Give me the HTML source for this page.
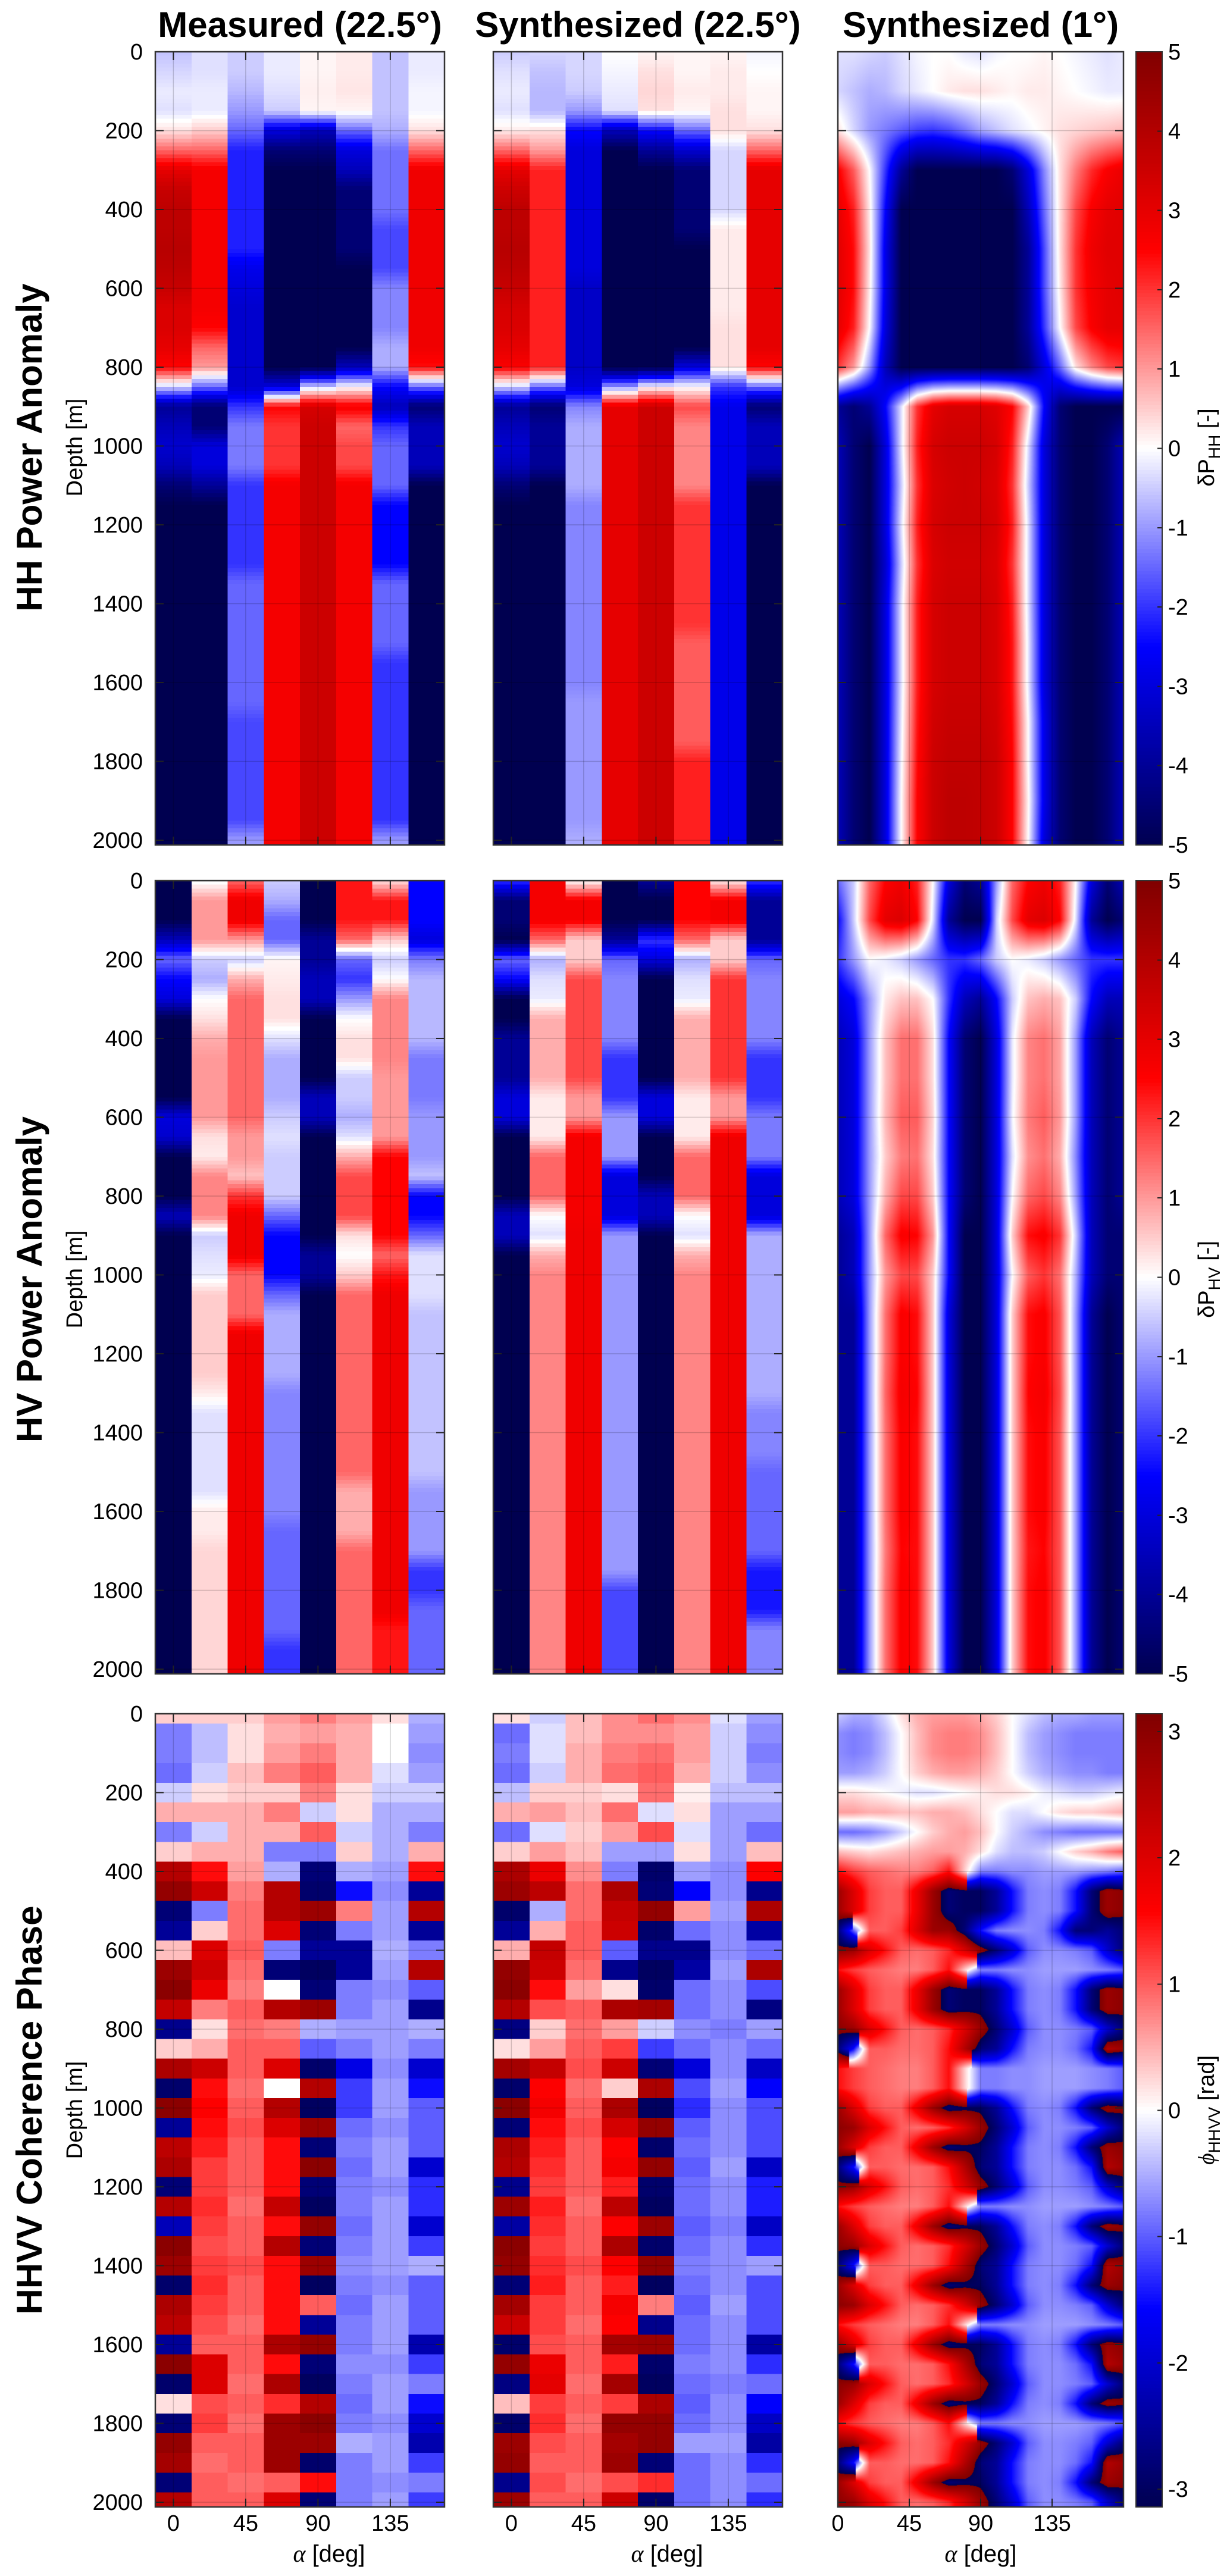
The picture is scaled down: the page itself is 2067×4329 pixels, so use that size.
<!DOCTYPE html>
<html><head><meta charset="utf-8">
<style>
body{margin:0;background:#fff;width:2067px;height:4329px;position:relative;overflow:hidden;font-family:"Liberation Sans",Arial,sans-serif}
canvas{position:absolute}
#fig{position:absolute;left:0;top:0}
</style></head>
<body>
<canvas id="cv-hh" width="480" height="1333" style="left:1408px;top:87px"></canvas>
<canvas id="cv-hv" width="480" height="1333" style="left:1408px;top:1480px"></canvas>
<canvas id="cv-ph" width="480" height="1333" style="left:1408px;top:2880px"></canvas>
<svg id="fig" width="2067" height="4329" xmlns="http://www.w3.org/2000/svg">
<g font-family="Liberation Sans, Arial, sans-serif" fill="#000">
<text x="504" y="62" font-size="60" font-weight="bold" text-anchor="middle">Measured (22.5°)</text>
<text x="1072" y="62" font-size="60" font-weight="bold" text-anchor="middle">Synthesized (22.5°)</text>
<text x="1648" y="62" font-size="60" font-weight="bold" text-anchor="middle">Synthesized (1°)</text>
<text transform="translate(70,752) rotate(-90)" font-size="60" font-weight="bold" text-anchor="middle">HH Power Anomaly</text>
<text transform="translate(70,2150) rotate(-90)" font-size="60" font-weight="bold" text-anchor="middle">HV Power Anomaly</text>
<text transform="translate(70,3546) rotate(-90)" font-size="60" font-weight="bold" text-anchor="middle">HHVV Coherence Phase</text>
<text transform="translate(138,752) rotate(-90)" font-size="38" text-anchor="middle">Depth [m]</text>
<text transform="translate(138,2150) rotate(-90)" font-size="38" text-anchor="middle">Depth [m]</text>
<text transform="translate(138,3546) rotate(-90)" font-size="38" text-anchor="middle">Depth [m]</text>
<text transform="translate(2040,752) rotate(-90)" font-size="38" text-anchor="middle">δP<tspan font-size="28" dy="10">HH</tspan><tspan dy="-10"> [-]</tspan></text>
<text transform="translate(2040,2150) rotate(-90)" font-size="38" text-anchor="middle">δP<tspan font-size="28" dy="10">HV</tspan><tspan dy="-10"> [-]</tspan></text>
<text transform="translate(2040,3546) rotate(-90)" font-size="38" text-anchor="middle"><tspan font-family="Liberation Serif, serif" font-style="italic">ϕ</tspan><tspan font-size="28" dy="10">HHVV</tspan><tspan dy="-10"> [rad]</tspan></text>
<text x="553" y="4305" font-size="40" text-anchor="middle"><tspan font-family="Liberation Serif, serif" font-style="italic">α</tspan> [deg]</text>
<text x="1121" y="4305" font-size="40" text-anchor="middle"><tspan font-family="Liberation Serif, serif" font-style="italic">α</tspan> [deg]</text>
<text x="1648" y="4305" font-size="40" text-anchor="middle"><tspan font-family="Liberation Serif, serif" font-style="italic">α</tspan> [deg]</text>
</g>
<g id="layer"></g>
</svg>
<script>
// ---------- categories ----------
const depths50 = [0,50,100,150,200,250,300,350,400,450,500,550,600,650,700,750,800,850,900,950,1000,1050,1100,1150,1200,1250,1300,1350,1400,1450,1500,1550,1600,1650,1700,1750,1800,1850,1900,1950,2000];
const depths100 = [0,100,200,300,400,500,600,700,800,900,1000,1100,1200,1300,1400,1500,1600,1700,1800,1900,2000];
const alphas22 = [0,22.5,45,67.5,90,112.5,135,157.5];
const alphas1 = [0,10,20,30,40,50,60,70,80,90,100,110,120,130,140,150,160,170,180];
const depthTicks = [0,200,400,600,800,1000,1200,1400,1600,1800,2000];
const alphaTicks = [0,45,90,135];
const powerCbTicks = [5,4,3,2,1,0,-1,-2,-3,-4,-5];
const phaseCbTicks = [3,2,1,0,-1,-2,-3];

// ---------- HH measured (columns) ----------
const hhM0 = [-0.6,-0.4,-0.2,-0.3,0.3,1.5,3,3.6,3.8,3.8,3.9,3.8,3.6,3.2,3.2,3,2.5,-0.5,-4,-3.5,-3.2,-3.5,-4.5,-5,-5,-5,-5,-5,-5,-5,-5,-5,-5,-5,-5,-5,-5,-5,-5,-5,-5];
const hhM1 = [-0.3,-0.3,-0.2,-0.2,0.5,1.5,2.7,2.7,2.7,2.7,2.7,2.7,2.7,2.7,2.5,1.5,1,-1.5,-4.5,-4.5,-3,-3,-4,-5,-5,-5,-5,-5,-5,-5,-5,-5,-5,-5,-5,-5,-5,-5,-5,-5,-5];
const hhM2 = [-0.5,-0.5,-0.7,-1,-1.5,-2.2,-2.2,-2.2,-2.2,-2.2,-2.2,-2.8,-3,-3.2,-3.2,-3.2,-3.2,-3.2,-2,-1.3,-1.3,-1.3,-2,-2,-2,-2,-2,-1.5,-1.5,-1.5,-1.5,-1.5,-1.5,-1.5,-1.8,-1.8,-1.8,-1.8,-1.8,-1.8,-1];
const hhM3 = [-0.2,-0.2,-0.3,-0.5,-3,-4.5,-5,-5,-5,-5,-5,-5,-5,-5,-5,-5,-5,-3,2.5,2,2,2,2.7,2.7,2.7,2.7,2.7,2.7,2.7,2.7,2.7,2.7,2.7,2.7,2.7,2.7,2.7,2.7,2.7,2.7,2.7];
const hhM4 = [0.1,0.1,0.15,0.1,-3.5,-4.5,-5,-5,-5,-5,-5,-5,-5,-5,-5,-5,-5,-0.5,3.3,3.5,3.5,3.5,3.5,3.5,3.5,3.5,3.5,3.5,3.5,3.5,3.5,3.5,3.5,3.5,3.5,3.5,3.5,3.5,3.5,3.5,3.5];
const hhM5 = [0.2,0.2,0.25,0.1,-1.5,-3,-3.5,-4.5,-4.5,-4.5,-4.5,-5,-5,-5,-5,-5,-3.5,0,2.7,1.5,1.8,1.8,2.7,2.7,2.7,2.7,2.7,2.7,2.7,2.7,2.7,2.7,2.7,2.7,2.7,2.7,2.7,2.7,2.7,2.7,2.7];
const hhM6 = [-0.6,-0.6,-0.6,-0.6,-0.8,-1.4,-1.4,-1.4,-1.4,-1.8,-1.8,-1.8,-1.2,-1.2,-1.2,-0.8,-0.8,-2.5,-3.5,-2,-1.5,-1.5,-1.5,-2.5,-2.5,-2.5,-2.5,-1.5,-1.5,-1.5,-1.5,-2,-2,-2,-2,-2,-2,-2,-2,-2,-1];
const hhM7 = [-0.2,-0.2,-0.1,-0.1,0.3,1.5,2.8,2.8,2.8,2.8,2.8,2.8,2.8,2.8,2.8,2.8,2.4,-1.5,-4.5,-3.5,-3.5,-3.5,-5,-5,-5,-5,-5,-5,-5,-5,-5,-5,-5,-5,-5,-5,-5,-5,-5,-5,-5];
// ---------- HH synthesized 22.5 ----------
const hhS0 = [-0.5,-0.3,-0.2,-0.3,0.2,1.5,3,3.5,3.8,3.8,3.9,3.8,3.6,3.3,3.2,3,2.6,-0.5,-4,-3.5,-3.2,-3.5,-4.5,-5,-5,-5,-5,-5,-5,-5,-5,-5,-5,-5,-5,-5,-5,-5,-5,-5,-5];
const hhS1 = [-0.4,-0.6,-0.7,-0.7,0.3,1,2.2,2.2,2.2,2.2,2.2,2.2,2.2,2.2,2.2,2.2,2.2,-1.5,-4.5,-4,-4,-4,-5,-5,-5,-5,-5,-5,-5,-5,-5,-5,-5,-5,-5,-5,-5,-5,-5,-5,-5];
const hhS2 = [-0.4,-0.4,-0.5,-1,-2.5,-3,-3,-3,-3,-3,-3,-3,-3.3,-3.3,-3.3,-3.3,-3.3,-3,-1.2,-0.8,-0.8,-0.8,-0.8,-1.2,-1.2,-1.2,-1.2,-1.2,-1.2,-1.2,-1.2,-1.2,-1.2,-1,-1,-1,-1,-1,-1,-1,-0.8];
const hhS3 = [0,-0.1,-0.2,-0.3,-3.5,-5,-5,-5,-5,-5,-5,-5,-5,-5,-5,-5,-5,-1,3,3,3,3,3,3,3,3,3,3,3,3,3,3,3,3,3,3,3,3,3,3,3];
const hhS4 = [0.1,0.3,0.4,0.3,-2.5,-4,-5,-5,-5,-5,-5,-5,-5,-5,-5,-5,-5,0,3.5,3.5,3.5,3.5,3.5,3.5,3.5,3.5,3.5,3.5,3.5,3.5,3.5,3.5,3.5,3.5,3.5,3.5,3.5,3.5,3.5,3.5,3.5];
const hhS5 = [0.1,0.1,0.2,0.1,-1.5,-3.2,-4.5,-4.5,-4.5,-4.5,-5,-5,-5,-5,-5,-5,-3,0,1.8,1.2,1.2,1.2,1.2,2,2,2,2,2,2,2,1.6,1.6,1.6,1.6,1.6,1.6,2.2,2.2,2.2,2.2,2.2];
const hhS6 = [0.1,0.2,0.2,0.3,0.3,-0.4,-0.4,-0.4,-0.4,0.2,0.2,0.2,0.2,0.2,0.3,0.3,0.3,-2,-2.8,-2.8,-2.8,-2.8,-2.8,-2.8,-2.8,-2.8,-2.8,-2.8,-2.8,-2.8,-2.8,-2.8,-2.8,-2.8,-2.8,-2.8,-2.8,-2.8,-2.8,-2.8,-2.8];
const hhS7 = [-0.1,0,0.1,0.1,0.3,1.5,3,3,3,3,3,3,3,3,3,3,2.5,-1.5,-4.5,-3.5,-3.5,-3.5,-5,-5,-5,-5,-5,-5,-5,-5,-5,-5,-5,-5,-5,-5,-5,-5,-5,-5,-5];
// ---------- HV measured ----------
const hvM0 = [-5,-5,-5,-3.5,-1.5,-2.5,-3,-5,-5,-5,-5,-5,-3,-3.2,-5,-5,-5,-3.5,-5,-5,-5,-5,-5,-5,-5,-5,-5,-5,-5,-5,-5,-5,-5,-5,-5,-5,-5,-5,-5,-5,-5];
const hvM1 = [-0.1,1,1,1,-0.5,-0.8,0,0.3,0.8,1,1,1,1,0.3,0.2,1.2,1.2,1.2,-0.5,-0.3,-0.2,0.5,0.5,0.5,0.5,0.5,0.2,-0.3,-0.3,-0.3,-0.3,-0.3,0.2,0.2,0.4,0.4,0.4,0.4,0.4,0.4,0.4];
const hvM2 = [1.5,2.8,2.8,1,-0.5,0.8,1.5,1.5,1.5,1.5,1.5,1.5,1.5,1,1,0.6,2,2.8,2.8,2.8,1.5,1.5,1.5,2.8,2.8,2.8,2.8,2.8,2.8,2.8,2.8,2.8,2.8,2.8,2.8,2.8,2.8,2.8,2.8,2.8,2.8];
const hvM3 = [-0.5,-0.8,-1.5,-1.5,0.1,0.2,0.3,0.3,-0.3,-0.8,-0.8,-0.8,-0.5,-0.3,-0.5,-0.5,-0.5,-1.5,-2.5,-2.5,-2.5,-1.5,-0.8,-0.8,-0.8,-0.8,-1.2,-1.2,-1.2,-1.2,-1.2,-1.2,-1.2,-1.5,-1.5,-1.5,-1.5,-1.5,-1.5,-2,-2];
const hvM4 = [-5,-5,-5,-4,-4,-3.5,-3.5,-5,-5,-5,-5,-3.5,-3.5,-5,-5,-5,-5,-5,-5,-4,-4,-5,-5,-5,-5,-5,-5,-5,-5,-5,-5,-5,-5,-5,-5,-5,-5,-5,-5,-5,-5];
const hvM5 = [2.3,2.3,2.3,1.5,-1.5,-2,-1,0,0.3,0.3,-0.5,-0.5,-0.8,-0.3,0.8,1.8,1.8,1.8,0.3,0,0.5,1.5,1.5,1.5,1.5,1.5,1.5,1.5,1.5,1.5,1.5,0.8,0.8,0.8,1.5,1.5,1.5,1.5,1.5,1.5,1.5];
const hvM6 = [0.3,2.3,2.3,0.5,-0.5,0,1.2,1.2,1.2,1.2,1,1,1,1,2.5,2.5,2.5,2.5,2.5,1.5,2.3,2.8,2.8,2.8,2.8,2.8,2.8,2.8,2.8,2.8,2.8,2.8,2.8,2.8,2.8,2.8,2.8,2.8,2.3,2.3,2.3];
const hvM7 = [-2.5,-2.5,-2.5,-3,-1.3,-0.7,-0.7,-0.7,-0.7,-1.3,-1.3,-1.3,-1,-1,-1,-0.6,-2.5,-2.5,-1.5,-0.3,-0.3,-0.3,-0.6,-0.6,-0.6,-0.6,-0.6,-0.6,-0.6,-0.6,-0.6,-1,-1,-1,-1,-2,-2,-1.5,-1.5,-1.5,-1.5];
// ---------- HV synthesized 22.5 ----------
const hvS0 = [-2,-4.5,-4.5,-5,-1.5,-2.5,-5,-5,-4,-4,-4,-3,-3,-5,-5,-5,-5,-3.5,-3.5,-5,-5,-5,-5,-5,-5,-5,-5,-5,-5,-5,-5,-5,-5,-5,-5,-5,-5,-5,-5,-5,-5];
const hvS1 = [2.7,2.7,2.7,1.5,-0.8,-0.3,-0.2,0.8,0.8,0.8,0.8,0.2,0.2,0.2,1.5,1.5,1.5,0,-0.3,0.8,1.2,1.2,1.2,1.2,1.2,1.2,1.2,1.2,1.2,1.2,1.2,1.2,1.2,1.2,1.2,1.2,1.2,1.2,1.2,1.2,1.2];
const hvS2 = [0,2.7,2.7,0.5,0.5,1.8,1.8,1.8,1.8,1.8,1.8,1,1,2.7,2.7,2.7,2.7,2.7,2.8,2.8,2.8,2.8,2.8,2.8,2.8,2.8,2.8,2.8,2.8,2.8,2.8,2.8,2.8,2.8,2.8,2.8,2.8,2.8,2.8,2.8,2.8];
const hvS3 = [-5,-5,-5,-4,-1.5,-1.2,-1.2,-1.2,-1.2,-2,-2,-2,-1,-1,-1,-3,-3,-3,-1,-1,-1,-1,-1,-1,-1,-1,-1,-1,-1,-1,-1,-1,-1,-1,-1,-1,-1.8,-1.8,-1.8,-1.8,-1.8];
const hvS4 = [-4,-5,-5,-2,-3,-5,-5,-5,-5,-5,-5,-3,-3,-5,-5,-5,-3.5,-3.5,-5,-5,-5,-5,-5,-5,-5,-5,-5,-5,-5,-5,-5,-5,-5,-5,-5,-5,-5,-5,-5,-5,-5];
const hvS5 = [2.5,2.5,2.5,1.5,-0.8,-0.3,-0.2,0.8,0.8,0.8,0.8,0.2,0.2,0.2,1.5,1.5,1.5,0,-0.3,0.8,1.2,1.2,1.2,1.2,1.2,1.2,1.2,1.2,1.2,1.2,1.2,1.2,1.2,1.2,1.2,1.2,1.2,1.2,1.2,1.2,1.2];
const hvS6 = [0.2,2.7,2.7,0.5,0.5,2,2,2,2,2,2,1,1,2.8,2.8,2.8,2.8,2.8,2.8,2.8,2.8,2.8,2.8,2.8,2.8,2.8,2.8,2.8,2.8,2.8,2.8,2.8,2.8,2.8,2.8,2.8,2.8,2.8,2.8,2.8,2.8];
const hvS7 = [-2,-4,-4,-4,-1.5,-1.2,-1.2,-1.2,-1.2,-2,-2,-2,-1.3,-1.3,-1.3,-3,-3,-3,-0.8,-0.8,-0.8,-0.8,-0.8,-0.8,-0.8,-0.8,-0.8,-1.2,-1.2,-1.2,-1.5,-1.5,-1.5,-1.5,-1.5,-2.3,-2.3,-2.3,-1.2,-1.2,-1.2];
// ---------- HHVV phase measured ----------
const phM0 = [0.3,-0.8,-0.8,-0.9,-0.3,0.5,-0.8,0.3,2.5,2.9,-2.8,-2.5,0.4,2.8,3.0,2.3,-2.6,0.3,2.6,-2.9,3.0,-2.5,2.4,2.6,-2.8,2.5,-2.2,3.0,2.8,-2.9,2.6,2.4,-2.5,3.0,-2.9,0.2,-2.8,2.9,2.7,-2.8,2.5];
const phM1 = [0.3,-0.4,-0.4,-0.3,0.2,0.5,-0.3,0.5,1.5,2.2,-0.8,0.3,2,2.2,1.8,0.8,0.2,0.5,2.2,1.5,1.6,1.5,1.4,1.2,1.2,1.3,1.2,1.1,1.2,1.3,1.2,1.1,1.0,2,2,1.1,1.2,1,0.9,1,1];
const phM2 = [0.3,0.2,0.2,0.4,0.3,0.5,0.5,0.5,0.6,0.8,0.9,0.9,1,0.9,0.8,1,0.9,1,1,0.9,1,1.1,1,1,1,0.9,1,1,1.1,1,1,0.9,1,1,0.9,1,0.9,1,1,0.9,1];
const phM3 = [0.6,0.5,0.6,0.8,0.3,0.8,0.5,-0.8,-0.5,2.5,2.5,2,-0.8,-2.8,0,2.5,0.8,1,2,0,2.5,2,1.5,1.5,1.5,2.3,1.5,2.5,1.5,1.5,1.5,1.5,2.6,1.5,2.6,1.3,2.8,2.8,2.8,1,2];
const phM4 = [0.8,0.6,0.8,1,0.8,-0.3,1,-0.8,-2.8,-2.9,2.8,-2.8,-2.5,-3,-2.8,2.8,-0.5,-1,-2.9,2.5,-3,2.8,-2.8,3,-2.8,-3,2.9,-2.8,2.8,-3,1,-2.5,2.9,-2.8,-3,2.5,3,2.8,-2.9,1.5,-2.8];
const phM5 = [0.6,0.5,0.5,0.5,0.2,0.2,-0.3,0.3,-0.5,-1.5,0.8,-0.8,-2.5,-2.5,-0.8,-0.8,-0.6,-0.8,-1.8,-1.2,-1.2,-0.9,-0.8,-0.9,-0.8,-0.8,-0.9,-0.8,-0.7,-0.8,-0.9,-0.8,-0.8,-0.7,-0.8,-0.9,-0.8,-0.5,-0.8,-0.8,-0.8];
const phM6 = [0.2,0,0,-0.2,-0.3,-0.5,-0.5,-0.5,-0.6,-0.7,-0.6,-0.6,-0.5,-0.6,-0.7,-0.6,-0.6,-0.6,-0.7,-0.6,-0.6,-0.7,-0.6,-0.6,-0.7,-0.6,-0.6,-0.6,-0.6,-0.7,-0.6,-0.6,-0.6,-0.7,-0.6,-0.6,-0.7,-0.6,-0.6,-0.7,-0.6];
const phM7 = [-0.5,-0.6,-0.7,-0.6,-0.3,-0.5,-0.8,0.5,1.5,-2.5,2.5,-2.5,-0.8,2.5,-1,-2.6,-0.5,-0.8,-2,-1.5,-1,-1,-1,-2,-1.3,-1.3,-2,-1.2,-0.5,-1,-1,-1,-2.3,-1.2,-0.8,-1.5,-2,-2.3,-1.2,-0.8,-1.2];
// ---------- HHVV phase synthesized 22.5 ----------
const phS0 = [0.2,-0.9,-0.8,-0.9,-0.4,0.5,-0.9,0.3,2.6,2.8,-2.9,-2.5,0.5,2.9,3.0,2.5,-2.7,0.2,2.7,-2.9,3.0,-2.8,2.6,2.5,-2.6,2.8,-2.4,3.0,2.9,-2.8,2.7,2.2,-2.9,2.9,-2.7,0.4,-2.9,2.8,2.9,-2.6,2.8];
const phS1 = [-0.3,-0.2,-0.2,-0.3,0.3,0.6,-0.2,0.6,1.8,2.4,-0.5,0.5,2.3,2.2,1.5,1.1,0.3,0.6,2.3,1.6,1.7,1.5,1.4,1.3,1.2,1.4,1.3,1.2,1.3,1.4,1.2,1.2,1.1,1.8,1.9,1.2,1.3,1.1,1.0,1.1,1.0];
const phS2 = [0.4,0.4,0.5,0.5,0.3,0.4,0.3,0.4,0.7,0.9,0.9,1,1,0.9,0.6,1,0.9,1,1.1,0.9,1,1.1,1,1,1,0.9,1,1,1.1,1,1,0.9,1,1,0.9,1,0.9,1,1,0.9,1];
const phS3 = [0.7,0.7,0.8,0.9,0.2,0.9,0.6,-0.6,-0.8,2.6,2.3,2.2,-1,-2.6,0.2,2.6,0.6,1.2,2.2,0.3,2.6,2.1,1.6,1.7,1.4,2.4,1.6,2.6,1.6,1.4,1.7,1.6,2.7,1.4,2.7,1.2,2.9,2.7,2.8,1.1,2.2];
const phS4 = [0.9,0.7,0.9,1,0.9,-0.2,1.1,-0.6,-2.9,-2.8,2.9,-2.9,-2.6,-3,-2.9,2.7,-0.3,-1.2,-2.8,2.6,-3,2.9,-2.9,2.9,-2.9,-3,2.8,-2.9,2.9,-3,0.8,-2.6,2.8,-2.9,-3,2.6,2.9,2.9,-2.8,1.3,-2.9];
const phS5 = [0.7,0.6,0.6,0.5,0.1,0.2,-0.2,0.2,-0.6,-1.6,0.6,-0.9,-2.6,-2.4,-0.9,-0.9,-0.7,-0.9,-1.9,-1.1,-1.3,-1.0,-0.9,-1.0,-0.9,-0.9,-1.0,-0.9,-0.8,-0.9,-1.0,-0.9,-0.9,-0.8,-0.9,-1.0,-0.9,-0.6,-0.9,-0.9,-0.9];
const phS6 = [-0.2,-0.3,-0.3,-0.3,-0.4,-0.6,-0.6,-0.6,-0.7,-0.7,-0.6,-0.7,-0.7,-0.6,-0.7,-0.7,-0.8,-0.7,-0.7,-0.6,-0.7,-0.7,-0.7,-0.6,-0.7,-0.7,-0.8,-0.7,-0.7,-0.7,-0.6,-0.7,-0.7,-0.7,-0.8,-0.7,-0.7,-0.6,-0.7,-0.7,-0.7];
const phS7 = [-0.6,-0.7,-0.8,-0.7,-0.4,-0.6,-0.9,0.4,1.6,-2.6,2.6,-2.4,-0.9,2.6,-1.1,-2.7,-0.6,-0.9,-2.1,-1.6,-1.1,-1.1,-1.1,-2.1,-1.4,-1.4,-2.1,-1.3,-0.6,-1.1,-1.1,-1.1,-2.4,-1.3,-0.9,-1.6,-2.1,-2.4,-1.3,-0.9,-1.3];

// ---------- HH synthesized 1deg (rows at depths100) ----------
const hhF = [
[-0.3,-0.3,-0.4,-0.5,-0.3,-0.1,0,0,-0.2,-0.3,-0.1,0,0,0.1,0,-0.1,-0.2,-0.3,-0.2],
[-0.4,-0.6,-0.8,-0.7,-0.4,-0.2,0,0.2,0.3,0.3,0.2,0.1,0.2,0.2,0.1,0,-0.1,-0.2,-0.2],
[0.3,-0.4,-1,-1.3,-1.6,-1.9,-2,-1.8,-1.4,-0.9,-0.6,-0.3,-0.1,0.1,0.3,0.4,0.5,0.6,0.7],
[2.6,1.6,0,-2,-4,-5,-5,-5,-5,-5,-5,-4.5,-3,-1.2,0.3,1.3,2.1,2.6,2.9],
[3,2.2,0.2,-2.5,-5,-5,-5,-5,-5,-5,-5,-5,-3.5,-1.5,0.3,1.8,2.6,3,3.1],
[3.1,2.4,0.3,-2.8,-5,-5,-5,-5,-5,-5,-5,-5,-4,-1.8,0.3,2,2.8,3.1,3.1],
[3.1,2.4,0.2,-2.8,-5,-5,-5,-5,-5,-5,-5,-5,-4,-1.8,0.2,2,2.7,3,3.1],
[3,2.2,0,-3,-5,-5,-5,-5,-5,-5,-5,-5,-4,-2,0,1.8,2.6,3,3],
[2,1,-1,-3.5,-5,-5,-5,-5,-5,-5,-5,-5,-4.5,-3,-1.5,0.3,1.2,1.8,2],
[-4,-4.5,-4,-2.5,-0.3,2,3,3.3,3.3,3.3,3.1,2.5,0.5,-2.5,-4.5,-5,-5,-5,-5],
[-3.5,-4.5,-5,-3,-0.3,2.2,3.3,3.5,3.5,3.5,3.3,2.2,-0.3,-3,-4.5,-5,-5,-4.5,-3.5],
[-3.5,-4.5,-5,-3,-0.5,2,3.2,3.4,3.5,3.4,3.2,2,-0.5,-3,-4.5,-5,-5,-4.5,-3.5],
[-3.5,-4.5,-5,-3,-0.3,2.2,3.3,3.5,3.5,3.5,3.3,2.2,-0.3,-3,-4.5,-5,-5,-4.5,-3.5],
[-3.5,-4.5,-5,-3.2,-0.5,2,3.2,3.4,3.4,3.4,3.2,2,-0.3,-3,-4.5,-5,-5,-4.5,-3.5],
[-3.5,-4.5,-5,-3,-0.3,2.2,3.3,3.5,3.5,3.5,3.3,2.2,-0.3,-3,-4.5,-5,-5,-4.5,-3.5],
[-3.5,-4.5,-5,-3,-0.3,2.2,3.3,3.5,3.5,3.5,3.3,2.3,-0.2,-3,-4.5,-5,-5,-4.5,-3.5],
[-3.5,-4.5,-5,-3,-0.3,2.2,3.3,3.5,3.5,3.5,3.3,2.3,-0.2,-3,-4.5,-5,-5,-4.5,-3.5],
[-3.5,-4.5,-5,-3,-0.2,2.3,3.4,3.6,3.6,3.6,3.4,2.4,0,-2.8,-4.5,-5,-5,-4.5,-3.5],
[-3.5,-4.5,-5,-3,-0.1,2.4,3.5,3.7,3.7,3.7,3.5,2.5,0,-2.8,-4.5,-5,-5,-4.5,-3.5],
[-3.5,-4.5,-5,-3,0,2.5,3.5,3.8,3.8,3.7,3.5,2.5,0.1,-2.8,-4.5,-5,-5,-4.5,-3.5],
[-3.5,-4.5,-5,-3,0,2.5,3.5,3.8,3.8,3.7,3.5,2.5,0,-3,-4.5,-5,-5,-4.5,-3.5]
];
// ---------- HV synthesized 1deg ----------
const hvF = [
[-1.5,-0.5,1.5,2.5,2.8,2.2,0,-3,-4.5,-4,-1,1.5,2.5,2.8,2.2,0,-3,-4.5,-3.5],
[-2.5,-0.5,1.8,3,3.2,2.5,-0.3,-4,-5,-5,-0.5,1.8,3,3.2,2.5,-0.3,-4,-5,-4.5],
[-2,-1,0,-0.2,-0.5,-1,-1.5,-2,-2,-1.5,-0.5,0,-0.2,-0.5,-1,-1.5,-2,-2,-2],
[-3,-2.5,-1,0.2,0.6,0.6,0,-2,-3.5,-4,-2.5,-0.5,0.6,0.8,0.6,-0.5,-2.5,-3.5,-3.5],
[-3.5,-3,-1,0.6,1.4,1.4,0.3,-2.5,-4.5,-5,-3,-0.2,1.2,1.4,0.9,-1,-3.5,-4.5,-4],
[-3.5,-3,-1,0.6,1.4,1.4,0.3,-2.5,-4.5,-5,-3,-0.2,1.2,1.4,0.9,-1,-3.5,-4.5,-4],
[-3.5,-3,-1,0.7,1.6,1.6,0.4,-2.5,-4.5,-5,-3,-0.1,1.3,1.6,1,-1,-3.5,-4.5,-4],
[-3.5,-3,-1,0.5,1.3,1.4,0.3,-2.5,-4.5,-5,-3,-0.3,1.1,1.4,0.8,-1.2,-3.5,-4.5,-4],
[-3.5,-3,-1,0.8,1.8,1.8,0.5,-2.5,-4.5,-5,-3,0,1.5,1.8,1.2,-1,-3.5,-4.5,-4],
[-4,-3.5,-1,1.5,2.6,2.5,1,-2.5,-5,-5,-3,0.5,2.4,2.6,2,-0.5,-3.5,-4.5,-4.5],
[-4,-3.5,-1,1,1.8,1.8,0.5,-2.5,-5,-5,-3,0,1.6,2,1.4,-0.8,-3.5,-4.5,-4.5],
[-4,-4,-1,1.4,2.6,2.4,0.5,-3,-5,-5,-3,0.5,2.4,2.6,1.7,-1,-4,-5,-4.5],
[-4,-4,-1,1.4,2.6,2.4,0.5,-3,-5,-5,-3,0.5,2.4,2.6,1.7,-1,-4,-5,-4.5],
[-4,-4,-1,1.5,2.7,2.5,0.5,-3,-5,-5,-3,0.5,2.5,2.7,1.8,-1,-4,-5,-4.5],
[-4,-4,-1,1.4,2.6,2.4,0.5,-3,-5,-5,-3,0.5,2.4,2.6,1.7,-1,-4,-5,-4.5],
[-4,-4,-1,1.4,2.6,2.4,0.5,-3,-5,-5,-3,0.5,2.4,2.6,1.7,-1,-4,-5,-4.5],
[-4,-4,-1,1.4,2.6,2.4,0.5,-3,-5,-5,-3,0.5,2.4,2.6,1.7,-1,-4,-5,-4.5],
[-4,-4,-1,1.3,2.5,2.4,0.5,-3,-5,-5,-3,0.5,2.3,2.5,1.7,-1,-4,-5,-4.5],
[-4,-4,-1,1.4,2.6,2.4,0.5,-3,-5,-5,-3,0.5,2.4,2.6,1.7,-1,-4,-5,-4.5],
[-4,-4,-1,1.4,2.6,2.4,0.5,-3,-5,-5,-3,0.5,2.4,2.6,1.7,-1,-4,-5,-4.5],
[-4,-4,-1,1.4,2.6,2.4,0.5,-3,-5,-5,-3,0.5,2.4,2.6,1.7,-1,-4,-5,-4.5]
];
// ---------- HHVV phase synthesized 1deg (rows at depths50) ----------
const phTop0 = [-0.3,-0.5,-0.5,-0.2,0.2,0.5,0.6,0.6,0.6,0.5,0.3,0,-0.2,-0.4,-0.5,-0.5,-0.6,-0.6,-0.6];
const phTop1 = [-0.7,-0.8,-0.7,-0.4,0,0.4,0.7,0.8,0.8,0.7,0.4,0,-0.4,-0.6,-0.7,-0.8,-0.8,-0.8,-0.8];
const phTop2 = [-0.6,-0.6,-0.5,-0.3,0,0.3,0.5,0.6,0.6,0.5,0.3,0,-0.3,-0.5,-0.6,-0.7,-0.7,-0.8,-0.8];
const phTop3 = [0.2,0.2,0.1,0,-0.1,-0.2,-0.2,-0.1,0,0.1,0.2,0.2,0.1,-0.1,-0.2,-0.3,-0.3,-0.2,-0.1];
const phTop4 = [0.6,0.6,0.5,0.5,0.4,0.4,0.5,0.5,0.4,0.2,0,-0.2,-0.2,0,0.2,0.3,0.3,0.4,0.5];
const phTop5 = [-0.9,-0.9,-0.8,-0.6,-0.3,0,0.3,0.5,0.6,0.4,0,-0.3,-0.5,-0.7,-0.8,-0.9,-0.9,-0.9,-0.9];
const phTop6 = [0.4,0.3,0.2,0.3,0.4,0.5,0.6,0.6,0.5,0.2,-0.2,-0.4,-0.4,-0.3,0,0.3,0.5,0.8,1];
const phRowA = [3,2.8,2,1.5,1,0.9,1,1.3,2,2.8,-2.8,-2,-1,-0.7,-0.7,-0.8,-1,-2,-2.8];
const phRowB = [-2.8,-1.5,1,1,0.9,0.9,1,1.5,2.5,-2.8,-2.5,-1.5,-0.8,-0.7,-0.7,-0.9,-1.5,2.5,2.8];
const phRowC = [1.5,1.2,1,0.9,0.8,0.8,1,1.5,0.3,-0.8,-0.8,-0.7,-0.7,-0.6,-0.6,-0.6,-0.7,-0.8,-1];
const phRowD = [2.8,2,1.2,1,1,1.8,2.8,-2.8,-3,-3,-2.5,-1.5,-0.8,-0.7,-0.8,-1.5,-2.8,2.8,3];
const phRowE = [-2.8,-1,1,1,1.2,2,2.8,2.8,-2.8,-1.5,-0.8,-0.7,-0.7,-0.8,-1.5,-2.8,-2.8,-2.5,-2.8];
const phF = [phTop0,phTop1,phTop1,phTop2,phTop3,phTop4,phTop5,phTop6,
  phRowC,phRowD,phRowD,phRowE,phRowA,phRowC,phRowD,phRowD,phRowA,phRowB,phRowC,phRowC,
  phRowD,phRowA,phRowD,phRowB,phRowA,phRowC,phRowD,phRowA,phRowB,phRowD,
  phRowA,phRowC,phRowD,phRowB,phRowA,phRowD,phRowC,phRowA,phRowB,phRowD,phRowA];

// ---------- layout ----------
const PX_PER_M = 0.6625, DEPTH_MAX = 2012;
const Y0 = {hh:87, hv:1480, ph:2880};
const LEFT22 = [261, 829], W22 = 486, LEFT1 = 1408, W1 = 480, CB_X = 1909, CB_W = 44;
const NS = 'http://www.w3.org/2000/svg';
const layer = document.getElementById('layer');

function yAt(y0, d){ return y0 + d*PX_PER_M; }
function x22(left, a){ return left + (a + 11.25)*W22/180; }
function x1(a){ return LEFT1 + a*W1/180; }
function lerp(a,b,t){ return a+(b-a)*t; }
function cmapRGB(v, vmax){
  let t = Math.max(-1, Math.min(1, v/vmax));
  let c;
  if (t < -0.5){ const u=(t+1)/0.5; c=[0,0,lerp(80,255,u)]; }
  else if (t < 0){ const u=(t+0.5)/0.5; c=[lerp(0,255,u),lerp(0,255,u),255]; }
  else if (t < 0.5){ const u=t/0.5; c=[255,lerp(255,0,u),lerp(255,0,u)]; }
  else { const u=(t-0.5)/0.5; c=[lerp(255,128,u),0,0]; }
  return c.map(Math.round);
}
function cmap(v, vmax){ const c=cmapRGB(v,vmax); return 'rgb('+c[0]+','+c[1]+','+c[2]+')'; }
function mk(tag, attrs, parent){
  const el = document.createElementNS(NS, tag);
  for (const k in attrs) el.setAttribute(k, attrs[k]);
  (parent||layer).appendChild(el);
  return el;
}

// 22.5 deg panels
function drawColumns(left, y0, cols, vmax, interp, name){
  const g = mk('g', {'shape-rendering':'crispEdges'});
  
  
  cols.forEach((col, k) => {
    const a = alphas22[k];
    const xa = x22(left, a-11.25), xb = x22(left, a+11.25);
    const n = Math.min(col.length, depths50.length);
    if (interp){
      for (let i=0;i<n-1;i++){
        const d0=depths50[i], d1=depths50[i+1], sub=5;
        for (let s=0;s<sub;s++){
          const da=d0+(d1-d0)*s/sub, db=d0+(d1-d0)*(s+1)/sub;
          const v=col[i]+(col[i+1]-col[i])*(s+0.5)/sub;
          const r = mk('rect',{x:xa.toFixed(1),y:yAt(y0,da).toFixed(1),width:(xb-xa+0.6).toFixed(1),height:((db-da)*PX_PER_M+0.6).toFixed(1),fill:cmap(v,vmax)},g);
          
          
        }
      }
      const r = mk('rect',{x:xa.toFixed(1),y:yAt(y0,depths50[n-1]).toFixed(1),width:(xb-xa+0.6).toFixed(1),height:((DEPTH_MAX-depths50[n-1])*PX_PER_M).toFixed(1),fill:cmap(col[n-1],vmax)},g);
      
      
    } else {
      for (let i=0;i<n;i++){
        const da=Math.max(0,depths50[i]-25), db=(i===n-1)?DEPTH_MAX:Math.min(DEPTH_MAX,depths50[i]+25);
        const r = mk('rect',{x:xa.toFixed(1),y:yAt(y0,da).toFixed(1),width:(xb-xa+0.6).toFixed(1),height:((db-da)*PX_PER_M+0.6).toFixed(1),fill:cmap(col[i],vmax)},g);
        
        
      }
    }
  });
}
drawColumns(LEFT22[0], Y0.hh, [hhM0,hhM1,hhM2,hhM3,hhM4,hhM5,hhM6,hhM7], 5, true, 'hh-measured-heatmap');
drawColumns(LEFT22[1], Y0.hh, [hhS0,hhS1,hhS2,hhS3,hhS4,hhS5,hhS6,hhS7], 5, true, 'hh-synth22-heatmap');
drawColumns(LEFT22[0], Y0.hv, [hvM0,hvM1,hvM2,hvM3,hvM4,hvM5,hvM6,hvM7], 5, true, 'hv-measured-heatmap');
drawColumns(LEFT22[1], Y0.hv, [hvS0,hvS1,hvS2,hvS3,hvS4,hvS5,hvS6,hvS7], 5, true, 'hv-synth22-heatmap');
drawColumns(LEFT22[0], Y0.ph, [phM0,phM1,phM2,phM3,phM4,phM5,phM6,phM7], Math.PI, false, 'phase-measured-heatmap');
drawColumns(LEFT22[1], Y0.ph, [phS0,phS1,phS2,phS3,phS4,phS5,phS6,phS7], Math.PI, false, 'phase-synth22-heatmap');

// 1 deg panels (canvas, bilinear; circular for phase)
function wrapPi(v){ while (v > Math.PI) v -= 2*Math.PI; while (v < -Math.PI) v += 2*Math.PI; return v; }
function mix(a, b, t, circ){
  if (!circ) return a + (b-a)*t;
  return wrapPi(a + wrapPi(b-a)*t);
}
function drawFine(id, grid, depths, vmax, circ){
  const cv = document.getElementById(id), ctx = cv.getContext('2d');
  const W = cv.width, H = cv.height, img = ctx.createImageData(W, H);
  const nr = grid.length, nc = alphas1.length;
  for (let py=0; py<H; py++){
    const d = (py+0.5)/PX_PER_M;
    let r = 0; while (r < nr-2 && depths[r+1] <= d) r++;
    const tr = Math.max(0, Math.min(1, (d-depths[r])/(depths[r+1]-depths[r])));
    for (let px=0; px<W; px++){
      const a = (px+0.5)*180/W;
      let c = 0; while (c < nc-2 && alphas1[c+1] <= a) c++;
      const tc = (a-alphas1[c])/(alphas1[c+1]-alphas1[c]);
      const v0 = mix(grid[r][c], grid[r][c+1], tc, circ);
      const v1 = mix(grid[r+1][c], grid[r+1][c+1], tc, circ);
      const col = cmapRGB(mix(v0, v1, tr, circ), vmax), o=(py*W+px)*4;
      img.data[o]=col[0]; img.data[o+1]=col[1]; img.data[o+2]=col[2]; img.data[o+3]=255;
    }
  }
  ctx.putImageData(img, 0, 0);
}
drawFine('cv-hh', hhF, depths100, 5, false);
drawFine('cv-hv', hvF, depths100, 5, false);
drawFine('cv-ph', phF, depths50, Math.PI, true);

// axes frames, grids, ticks
function axes(left, width, y0, xOf, isFine, showY, showX, name){
  const g = mk('g', {});
  
  
  const H = DEPTH_MAX*PX_PER_M;
  alphaTicks.forEach(a => {
    const x = xOf(a);
    if (x > left+1){
      const gl = mk('line',{x1:x,y1:y0,x2:x,y2:y0+H,stroke:'rgba(0,0,0,0.18)','stroke-width':1.5},g);
      
      
    }
    const t1 = mk('line',{x1:x,y1:y0,x2:x,y2:y0+14,stroke:'#222','stroke-width':2},g);
    
    
    const t2 = mk('line',{x1:x,y1:y0+H,x2:x,y2:y0+H-14,stroke:'#222','stroke-width':2},g);
    
    
    if (showX){
      const tl = mk('text',{x:x,y:4253,'font-size':38,'text-anchor':'middle','font-family':'Liberation Sans, Arial, sans-serif'},g);
      tl.textContent = a;
      
      
    }
  });
  depthTicks.forEach(d => {
    const y = yAt(y0, d);
    if (d > 0){
      const gl = mk('line',{x1:left,y1:y,x2:left+width,y2:y,stroke:'rgba(0,0,0,0.18)','stroke-width':1.5},g);
      
      
    }
    const t1 = mk('line',{x1:left,y1:y,x2:left+14,y2:y,stroke:'#222','stroke-width':2},g);
    
    
    const t2 = mk('line',{x1:left+width,y1:y,x2:left+width-14,y2:y,stroke:'#222','stroke-width':2},g);
    
    
    if (showY){
      const tl = mk('text',{x:240,y:y+13,'font-size':38,'text-anchor':'end','font-family':'Liberation Sans, Arial, sans-serif'},g);
      tl.textContent = d;
      
      
    }
  });
  const fr = mk('rect',{x:left,y:y0,width:width,height:H,fill:'none',stroke:'#333','stroke-width':2.5},g);
  
  
}
[['hh',Y0.hh],['hv',Y0.hv],['ph',Y0.ph]].forEach(([key,y0]) => {
  const last = key==='ph';
  axes(LEFT22[0], W22, y0, a=>x22(LEFT22[0],a), false, true, last, key+'-measured-axes');
  axes(LEFT22[1], W22, y0, a=>x22(LEFT22[1],a), false, false, last, key+'-synth22-axes');
  axes(LEFT1, W1, y0, x1, true, false, last, key+'-synth1-axes');
});

// colorbars
function colorbar(y0, vmax, ticks, name){
  const g = mk('g', {'shape-rendering':'crispEdges'});
  
  
  const H = DEPTH_MAX*PX_PER_M, N = 220;
  for (let i=0;i<N;i++){
    const v = vmax - (i+0.5)/N*2*vmax;
    const r = mk('rect',{x:CB_X,y:(y0+i*H/N).toFixed(2),width:CB_W,height:(H/N+0.7).toFixed(2),fill:cmap(v,vmax)},g);
    
    
  }
  ticks.forEach(t => {
    const y = y0 + (vmax - t)/(2*vmax)*H;
    const tk = mk('line',{x1:CB_X+CB_W-8,y1:y,x2:CB_X+CB_W,y2:y,stroke:'#222','stroke-width':2},g);
    
    
    const tl = mk('text',{x:CB_X+CB_W+10,y:y+13,'font-size':38,'font-family':'Liberation Sans, Arial, sans-serif'},g);
    tl.textContent = t;
    
    
  });
  const fr = mk('rect',{x:CB_X,y:y0,width:CB_W,height:H,fill:'none',stroke:'#333','stroke-width':2},g);
  
  
}
colorbar(Y0.hh, 5, powerCbTicks, 'hh-colorbar');
colorbar(Y0.hv, 5, powerCbTicks, 'hv-colorbar');
colorbar(Y0.ph, Math.PI, phaseCbTicks, 'phase-colorbar');
</script>
</body></html>
